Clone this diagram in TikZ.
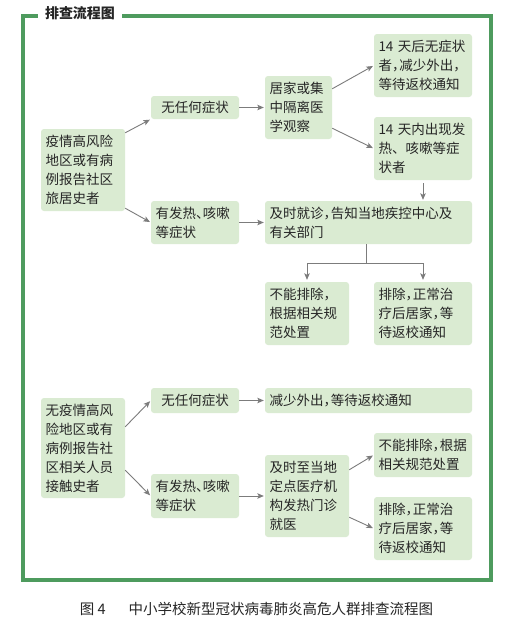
\documentclass[tikz,border=0pt]{standalone}
\usepackage{fontspec}
\newfontfamily\cjk{Noto Sans CJK SC}
\usetikzlibrary{arrows.meta}
\definecolor{boxgreen}{HTML}{DAEBD2}
\definecolor{framegreen}{HTML}{4E9B5E}
\definecolor{linkgray}{HTML}{7C7C7C}
\newcommand{\dou}{，\kern-.45em}
\tikzstyle{box}=[
        fill=boxgreen,
        rounded corners=3pt,
        inner xsep=4.5pt,
        inner ysep=2pt,
        align=left,
        text=black!85,
        font=\cjk\fontsize{13.5}{19}\selectfont
]
\tikzstyle{link}=[
        draw=linkgray,
        line width=0.9pt,
        -{Stealth[length=6.5pt,width=5.5pt,inset=1.5pt]},
        shorten >=1pt
]
\begin{document}
\begin{tikzpicture}[x=1pt,y=-1pt]
                    \useasboundingbox (0,0) rectangle (504,624);
                    \fill[white] (0,0) rectangle (504,624);

                    \draw[framegreen, line width=4pt] (23,15.5) rectangle (490.5,579.5);
                    \node[fill=white, inner xsep=7pt, inner ysep=1pt, text=black!85,
                          font=\cjk\bfseries\fontsize{14}{16}\selectfont] (title) at (80,13) {排查流程图};

                    % high risk area
                    \node[box, text width=75pt, minimum height=82pt] (risk) at (83,170) {疫情高风险\\地区或有病\\例报告社区\\旅居史者};
                    \node[box, text width=79pt, minimum height=23pt, align=center] (calmA) at (195,107.5) {无任何症状};
                    \node[box, text width=79pt, minimum height=43pt] (feverA) at (195,222.5) {有发热、\kern-.5em 咳嗽\\等症状};
                    \node[box, text width=58pt, minimum height=63pt] (observe) at (298.5,107.5) {居家或集\\中隔离医\\学观察};
                    \node[box, text width=89pt, minimum height=63pt] (after) at (423,65.5) {14~天后无症状\\者\dou 减少外出\dou\\等待返校通知};
                    \node[box, text width=89pt, minimum height=63pt] (within) at (423,148.5) {14~天内出现发\\热、咳嗽等症\\状者};
                    \node[box, text width=198pt, minimum height=43pt] (visit) at (368.5,222.5) {及时就诊\dou 告知当地疾控中心及\\有关部门};
                    \node[box, text width=75pt, minimum height=63pt] (notexA) at (307,313.5) {不能排除\dou\\根据相关规\\范处置};
                    \node[box, text width=89pt, minimum height=63pt] (exA) at (423,313.5) {排除\dou 正常治\\疗后居家\dou 等\\待返校通知};

                    \draw[link] ([yshift=-4pt]risk.north east) -- (calmA.south west);
                    \draw[link] ([yshift=3pt]risk.south east) -- (feverA.west);
                    \draw[link] (calmA.east) -- (observe.west);
                    \draw[link] ([yshift=-13pt]observe.north east) -- (after.west);
                    \draw[link] ([yshift=11pt]observe.south east) -- (within.west);
                    \draw[link, shorten <=3pt] (within.south) -- (within.south |- visit.north);
                    \draw[link] (feverA.east) -- (visit.west);

                    \coordinate (fork) at (366,263);
                    \draw[linkgray, line width=0.9pt] (fork |- visit.south) -- (fork);
                    \draw[link, shorten >=2pt] (fork) -| (notexA.north);
                    \draw[link, shorten >=2pt] (fork) -| (exA.north);

                    % contact history
                    \node[box, text width=75pt, minimum height=100pt] (contact) at (83,448) {无疫情高风\\险地区或有\\病例报告社\\区相关人员\\接触史者};
                    \node[box, text width=79pt, minimum height=25pt, align=center] (calmB) at (195,400.5) {无任何症状};
                    \node[box, text width=79pt, minimum height=44pt] (feverB) at (195,496) {有发热、\kern-.5em 咳嗽\\等症状};
                    \node[box, text width=198pt, minimum height=25pt] (stay) at (368.5,400.5) {减少外出\dou 等待返校通知};
                    \node[box, text width=75pt, minimum height=82pt] (clinic) at (307,496) {及时至当地\\定点医疗机\\构发热门诊\\就医};
                    \node[box, text width=89pt, minimum height=44pt] (notexB) at (423,455) {不能排除\dou 根据\\相关规范处置};
                    \node[box, text width=89pt, minimum height=63pt] (exB) at (423,528.5) {排除\dou 正常治\\疗后居家\dou 等\\待返校通知};

                    \draw[link] ([yshift=-29pt]contact.north east) -- (calmB.west);
                    \draw[link] ([yshift=28pt]contact.south east) -- (feverB.west);
                    \draw[link] (calmB.east) -- (stay.west);
                    \draw[link] (feverB.east) -- (clinic.west);
                    \draw[link] ([yshift=-15pt]clinic.north east) -- (notexB.west);
                    \draw[link] ([yshift=20pt]clinic.south east) -- (exB.west);

                    \node[text=black!85, font=\cjk\fontsize{14.5}{16}\selectfont] (caption) at (256.5,609)
                        {图~4\hspace{1.6em}中小学校新型冠状病毒肺炎高危人群排查流程图};
                \end{tikzpicture}
\end{document}
